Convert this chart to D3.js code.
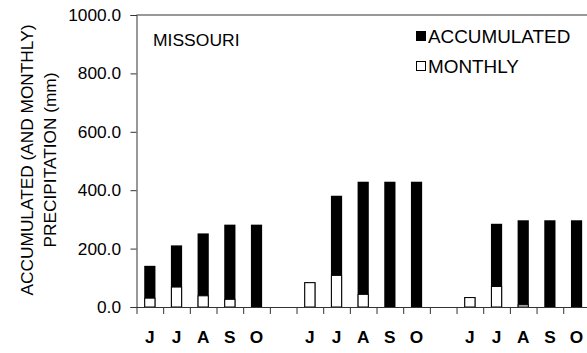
<!DOCTYPE html>
<html>
<head>
<meta charset="utf-8">
<script src="https://cdn.jsdelivr.net/npm/d3@7"></script>
<style>
  body { margin: 0; background: #fff; }
  svg { display: block; font-family: "Liberation Sans", Arial, sans-serif; }
</style>
</head>
<body>
<div id="chart"></div>
<script>
// categories (blank slots separate the three years)
const monthLabels = ["J", "J", "A", "S", "O", "", "J", "J", "A", "S", "O", "", "J", "J", "A", "S", "O"];
const accumulated = [141, 211, 252, 282, 282, null, 85, 381, 429, 429, 429, null, 34, 285, 297, 297, 297];
const monthly = [32, 70, 40, 28, 0, null, 85, 110, 45, 0, 0, null, 34, 72, 9, 0, 0];
const yTicks = [0, 200, 400, 600, 800, 1000];

const W = 587, H = 353;
const svg = d3.select('#chart').append('svg').attr('width', W).attr('height', H);

// text is slightly wide in the original, stretch it a bit
function label(x, y, txt, opts = {}) {
    return svg.append('text')
        .attr('transform', `translate(${x},${y}) scale(${opts.sx || 1.08},1)`)
        .attr('text-anchor', opts.anchor || 'start')
        .attr('font-size', (opts.size || 16) + 'px')
        .attr('font-weight', opts.weight || 'normal')
        .attr('fill', '#000')
        .text(txt);
}

const idx = monthLabels.map((d, i) => i);
const x = d3.scaleBand().domain(idx).range([136.5, 136.5 + 17 * 26.67]).padding(0);
const y = d3.scaleLinear().domain([0, 1000]).range([307, 15]);
const barW = x.bandwidth() * 0.42;
const axisColor = '#333';

// top frame line
svg.append('line')
    .attr('x1', x.range()[0]).attr('x2', W + 5)
    .attr('y1', y(1000)).attr('y2', y(1000))
    .attr('stroke', axisColor).attr('stroke-width', 1);

// accumulated bars
svg.append('g').selectAll('rect')
    .data(idx.filter(i => accumulated[i] != null))
    .join('rect')
    .attr('x', i => x(i) + (x.bandwidth() - barW) / 2)
    .attr('width', barW)
    .attr('y', i => y(accumulated[i]))
    .attr('height', i => y(0) - y(accumulated[i]))
    .attr('fill', '#000');

// monthly bars on top
svg.append('g').selectAll('rect')
    .data(idx.filter(i => monthly[i]))
    .join('rect')
    .attr('x', i => x(i) + (x.bandwidth() - barW) / 2 + 0.5)
    .attr('width', barW - 1)
    .attr('y', i => y(monthly[i]) + 0.5)
    .attr('height', i => y(0) - y(monthly[i]) - 0.5)
    .attr('fill', '#fff')
    .attr('stroke', '#000')
    .attr('stroke-width', 1);

// y axis
const yAxis = svg.append('g')
    .attr('transform', `translate(${x.range()[0]},0)`)
    .call(d3.axisLeft(y).tickValues(yTicks).tickSize(6).tickFormat(''));
yAxis.selectAll('path, line').attr('stroke', axisColor);
yTicks.forEach(v => label(121, y(v) + 6, d3.format('.1f')(v), { anchor: 'end' }));

// x axis: ticks at category boundaries
const xb = d3.scaleLinear().domain([0, 17]).range(x.range());
const xAxis = svg.append('g')
    .attr('transform', `translate(0,${y(0)})`)
    .call(d3.axisBottom(xb).tickValues(d3.range(0, 18)).tickSize(7).tickSizeOuter(0).tickFormat(''));
xAxis.selectAll('path, line').attr('stroke', axisColor);
monthLabels.forEach((m, i) => {
    if (m) label(x(i) + x.bandwidth() / 2, 343, m, { anchor: 'middle', weight: 'bold' });
});

// y title
const titleY = 160;
svg.append('text')
    .attr('transform', `translate(33,${titleY}) rotate(-90) scale(1.08,1)`)
    .attr('text-anchor', 'middle').attr('font-size', '16px')
    .text('ACCUMULATED (AND MONTHLY)');
svg.append('text')
    .attr('transform', `translate(56,${titleY}) rotate(-90) scale(1.08,1)`)
    .attr('text-anchor', 'middle').attr('font-size', '16px')
    .text('PRECIPITATION (mm)');

// panel title
label(153, 46, 'MISSOURI', { size: 17, sx: 1.03 });

// legend
svg.append('rect').attr('x', 416).attr('y', 31).attr('width', 10).attr('height', 10).attr('fill', '#000');
label(428, 43, 'ACCUMULATED', { size: 18, sx: 1.05 });
svg.append('rect').attr('x', 416.5).attr('y', 61.5).attr('width', 9).attr('height', 9)
    .attr('fill', '#fff').attr('stroke', '#000');
label(428, 73, 'MONTHLY', { size: 18, sx: 1.05 });
</script>
</body>
</html>
